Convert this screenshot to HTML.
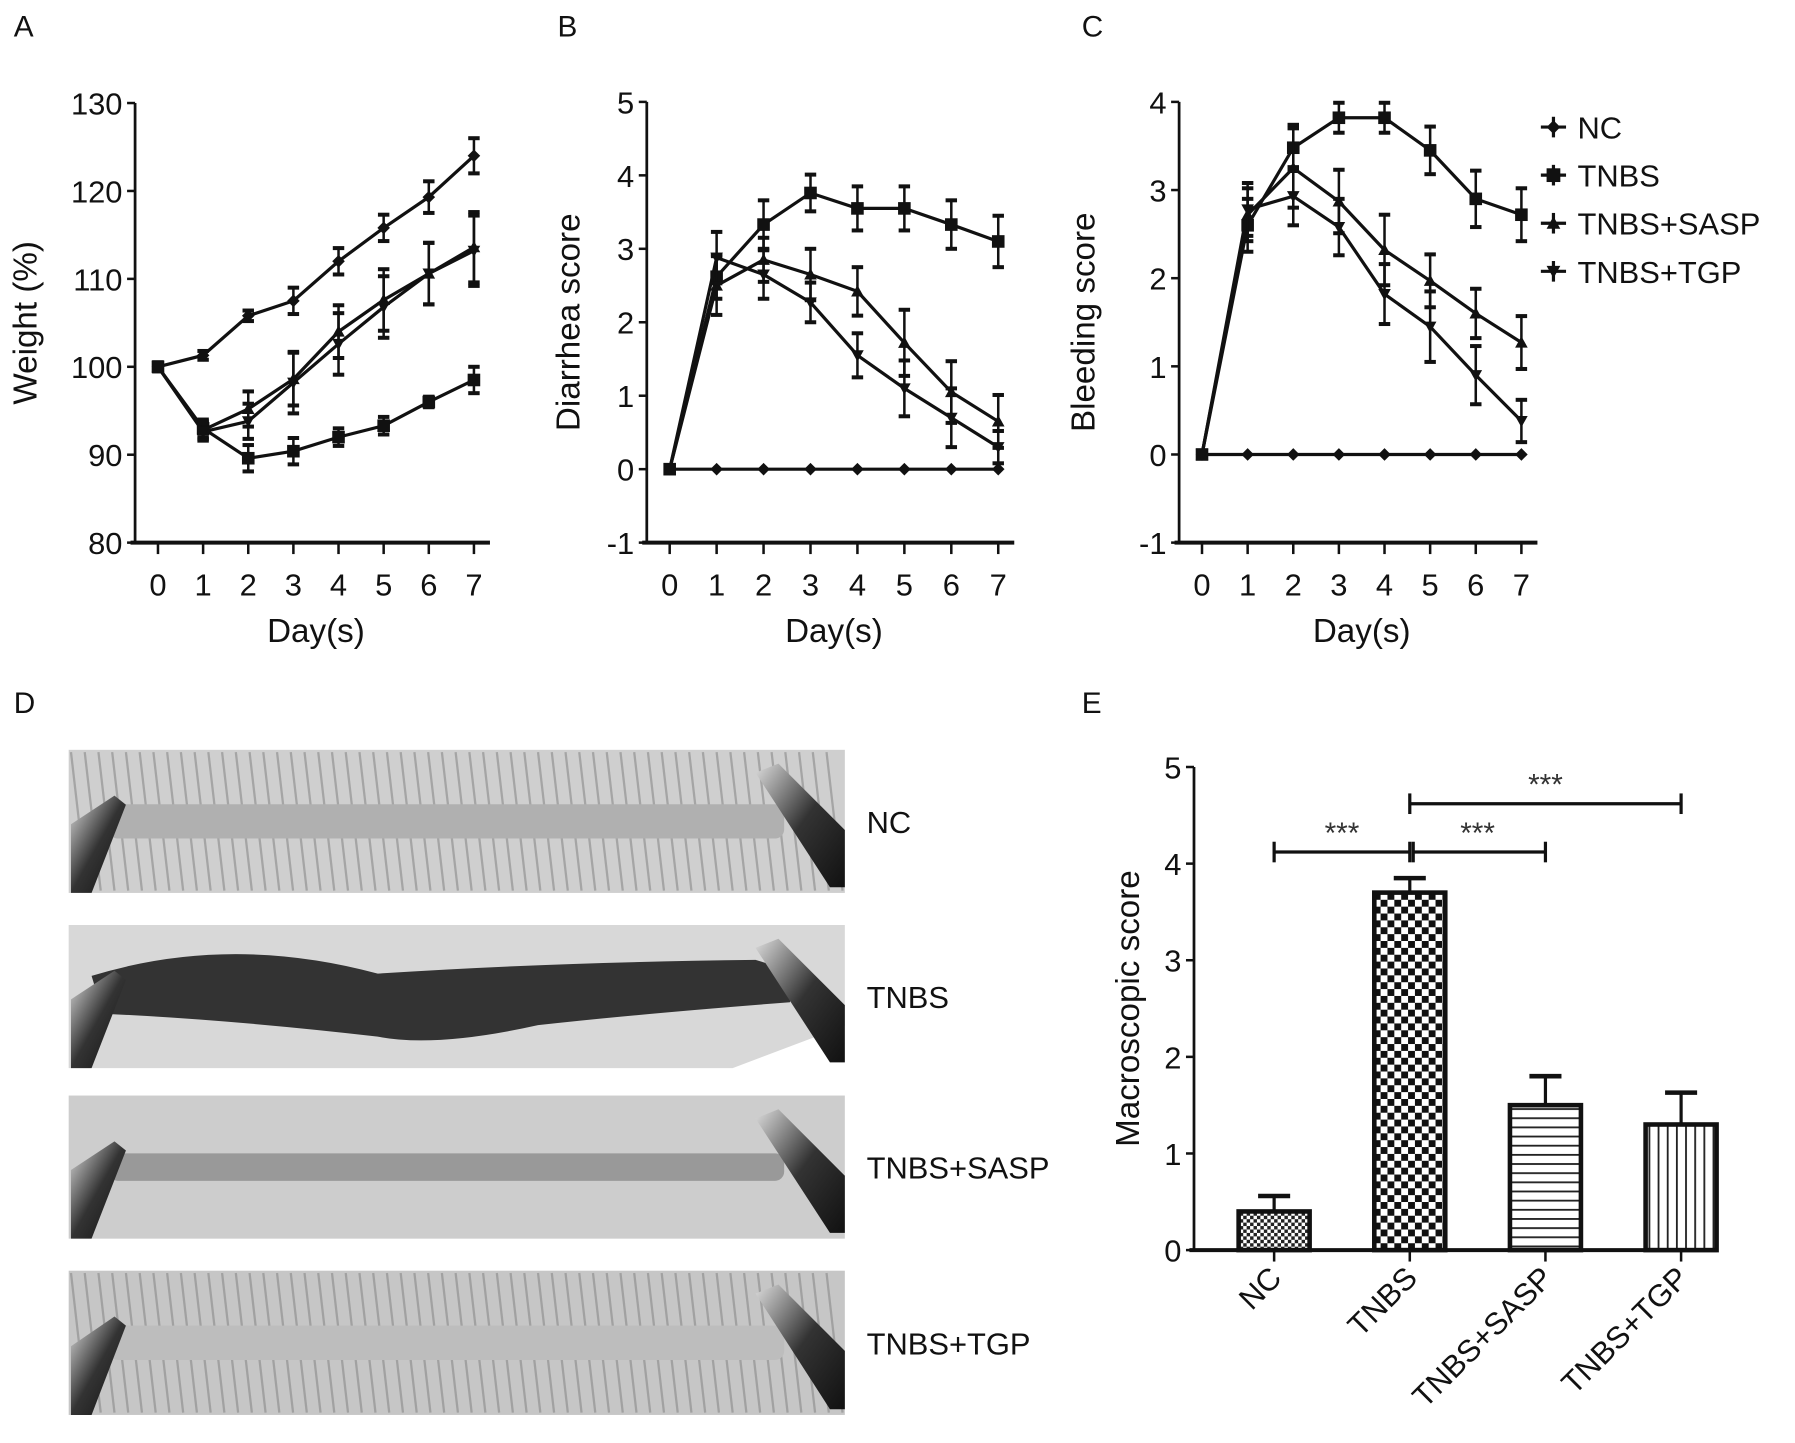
<!DOCTYPE html>
<html><head><meta charset="utf-8">
<style>
html,body{margin:0;padding:0;background:#fff;}
svg{display:block;font-family:"Liberation Sans",Arial,sans-serif;}
</style></head>
<body>
<svg id="fig" width="1795" height="1443" viewBox="0 0 1568 1260.5" xmlns="http://www.w3.org/2000/svg">
<defs>
<pattern id="pCheckSmall" width="6" height="6" patternUnits="userSpaceOnUse"><rect width="6" height="6" fill="#fff"/><rect width="3" height="3" fill="#222"/><rect x="3" y="3" width="3" height="3" fill="#222"/></pattern>
<pattern id="pCheck" width="12" height="12" patternUnits="userSpaceOnUse"><rect width="12" height="12" fill="#fff"/><rect width="6" height="6" fill="#111"/><rect x="6" y="6" width="6" height="6" fill="#111"/></pattern>
<pattern id="pHoriz" width="8" height="8" patternUnits="userSpaceOnUse"><rect width="8" height="8" fill="#fff"/><rect y="0" width="8" height="1.6" fill="#222"/></pattern>
<pattern id="pVert" width="8" height="8" patternUnits="userSpaceOnUse"><rect width="8" height="8" fill="#fff"/><rect x="0" width="1.6" height="8" fill="#222"/></pattern>
<linearGradient id="metal" x1="0" y1="0" x2="1" y2="1"><stop offset="0" stop-color="#ddd"/><stop offset="0.5" stop-color="#333"/><stop offset="1" stop-color="#111"/></linearGradient>
</defs>
<g id="panels"></g>
</svg>
<script>
// ---------- Data ----------
const days = [0,1,2,3,4,5,6,7];
const seriesNames = ["NC","TNBS","TNBS+SASP","TNBS+TGP"];
// Panel A weight
const weightNC   = [100,101.3,105.8,107.5,112,115.8,119.3,124];
const weightTNBS = [100,93,89.6,90.4,92,93.3,96,98.5];
const weightSASP = [100,92.8,95.2,98.6,104,107.6,110.6,113.6];
const weightTGP  = [100,92.6,93.8,98.2,102.6,106.8,110.6,113.2];
const weightErrNC   = [0.5,0.5,0.6,1.5,1.5,1.5,1.8,2];
const weightErrTNBS = [0.5,1,1.5,1.5,1,1,0.6,1.5];
const weightErrSASP = [0.5,1,2,3,3,3.5,3.5,4];
const weightErrTGP  = [0.5,1,2,3.5,3.5,3.5,3.5,4];
// Panel B diarrhea
const diarNC   = [0,0,0,0,0,0,0,0];
const diarTNBS = [0,2.62,3.33,3.76,3.55,3.55,3.33,3.1];
const diarSASP = [0,2.5,2.85,2.65,2.42,1.72,1.05,0.65];
const diarTGP  = [0,2.88,2.65,2.27,1.55,1.1,0.7,0.3];
const diarErrNC   = [0,0,0,0,0,0,0,0];
const diarErrTNBS = [0,0.3,0.33,0.25,0.3,0.3,0.33,0.35];
const diarErrSASP = [0,0.4,0.3,0.35,0.33,0.45,0.42,0.36];
const diarErrTGP  = [0,0.35,0.33,0.27,0.3,0.38,0.4,0.22];
// Panel C bleeding
const bleedNC   = [0,0,0,0,0,0,0,0];
const bleedTNBS = [0,2.6,3.48,3.82,3.82,3.45,2.9,2.72];
const bleedSASP = [0,2.72,3.25,2.87,2.32,1.97,1.6,1.27];
const bleedTGP  = [0,2.78,2.93,2.58,1.82,1.45,0.9,0.38];
const bleedErrNC   = [0,0,0,0,0,0,0,0];
const bleedErrTNBS = [0,0.3,0.26,0.17,0.17,0.27,0.32,0.3];
const bleedErrSASP = [0,0.3,0.45,0.36,0.4,0.3,0.28,0.3];
const bleedErrTGP  = [0,0.3,0.33,0.32,0.34,0.4,0.33,0.24];
// Panel E bars
const barCats = ["NC","TNBS","TNBS+SASP","TNBS+TGP"];
const barVals = [0.4,3.7,1.5,1.3];
const barErrs = [0.16,0.15,0.3,0.33];
const yTicksA = [80,90,100,110,120,130];
const yTicksB = [-1,0,1,2,3,4,5];
const yTicksC = [-1,0,1,2,3,4];
const yTicksE = [0,1,2,3,4,5];

const NS="http://www.w3.org/2000/svg";
const root=document.getElementById('panels');
function mk(tag,attrs,parent){const e=document.createElementNS(NS,tag);for(const k in attrs)e.setAttribute(k,attrs[k]);(parent||root).appendChild(e);return e;}
function txt(s,attrs,parent){const e=mk('text',attrs,parent);e.textContent=s;return e;}

function marker(g,type,x,y,s){
  s=s||6;
  if(type===0){const m=mk('path',{d:`M${x} ${y-s} L${x+s} ${y} L${x} ${y+s} L${x-s} ${y} Z`,fill:'#111'},g);}
  else if(type===1){const m=mk('rect',{x:x-s,y:y-s,width:2*s,height:2*s,fill:'#111'},g);}
  else if(type===2){const m=mk('path',{d:`M${x} ${y-s} L${x+s} ${y+s*0.8} L${x-s} ${y+s*0.8} Z`,fill:'#111'},g);}
  else {const m=mk('path',{d:`M${x} ${y+s} L${x+s} ${y-s*0.8} L${x-s} ${y-s*0.8} Z`,fill:'#111'},g);}
}

function lineChart(cfg){
  const g=mk('g',{});
  
  
  const xs=d=>cfg.x0+(d-days[0])*(cfg.x7-cfg.x0)/(days[days.length-1]-days[0]);
  const ys=v=>cfg.yBot+(v-cfg.yMin)*(cfg.yTop-cfg.yBot)/(cfg.yMax-cfg.yMin);
  const ya=mk('line',{x1:cfg.ax,y1:ys(cfg.yMax),x2:cfg.ax,y2:ys(cfg.yMin),stroke:'#111','stroke-width':2.4},g);
  
  const xa=mk('line',{x1:cfg.ax-4,y1:ys(cfg.yMin),x2:cfg.xEnd,y2:ys(cfg.yMin),stroke:'#111','stroke-width':3.5},g);
  
  cfg.yTicks.forEach(t=>{
    mk('line',{x1:cfg.ax-7,y1:ys(t),x2:cfg.ax,y2:ys(t),stroke:'#111','stroke-width':2.2},g);
    const l=txt(String(t),{x:cfg.ax-11,y:ys(t)+10,'text-anchor':'end','font-size':27,fill:'#111'},g);
    
  });
  days.forEach(d=>{
    mk('line',{x1:xs(d),y1:ys(cfg.yMin),x2:xs(d),y2:ys(cfg.yMin)+10,stroke:'#111','stroke-width':2.2},g);
    const l=txt(String(d),{x:xs(d),y:ys(cfg.yMin)+46,'text-anchor':'middle','font-size':27,fill:'#111'},g);
    
  });
  const xt=txt('Day(s)',{x:(cfg.x0+cfg.x7)/2,y:ys(cfg.yMin)+87,'text-anchor':'middle','font-size':29,fill:'#111'},g);
  
  const cy=(ys(cfg.yMax)+ys(cfg.yMin))/2;
  const yt=txt(cfg.ylabel,{x:cfg.ylx,y:cy,'text-anchor':'middle','font-size':29,fill:'#111',transform:`rotate(-90 ${cfg.ylx} ${cy})`},g);
  
  cfg.series.forEach((s,si)=>{
    const sg=mk('g',{},g);
    
    
    const pts=s.map((v,i)=>xs(days[i])+','+ys(v)).join(' ');
    mk('polyline',{points:pts,fill:'none',stroke:'#111','stroke-width':2.8},sg);
    s.forEach((v,i)=>{
      const e=cfg.errs[si][i];
      if(e>0){
        const x=xs(days[i]);
        mk('line',{x1:x,y1:ys(v-e),x2:x,y2:ys(v+e),stroke:'#111','stroke-width':2.2},sg);
        mk('line',{x1:x-5,y1:ys(v+e),x2:x+5,y2:ys(v+e),stroke:'#111','stroke-width':3.5},sg);
        mk('line',{x1:x-5,y1:ys(v-e),x2:x+5,y2:ys(v-e),stroke:'#111','stroke-width':3.5},sg);
      }
      marker(sg,si,xs(days[i]),ys(v),5.5);
    });
  });
}

lineChart({name:'weight-chart',ax:118,x0:138,x7:414,xEnd:428,yTop:90,yBot:474,yMin:80,yMax:130,yTicks:yTicksA,ylabel:'Weight (%)',ylx:32,
  series:[weightNC,weightTNBS,weightSASP,weightTGP],errs:[weightErrNC,weightErrTNBS,weightErrSASP,weightErrTGP]});
lineChart({name:'diarrhea-chart',ax:565,x0:585,x7:872,xEnd:886,yTop:89,yBot:474,yMin:-1,yMax:5,yTicks:yTicksB,ylabel:'Diarrhea score',ylx:506,
  series:[diarNC,diarTNBS,diarSASP,diarTGP],errs:[diarErrNC,diarErrTNBS,diarErrSASP,diarErrTGP]});
lineChart({name:'bleeding-chart',ax:1030,x0:1050,x7:1329,xEnd:1343,yTop:89,yBot:474,yMin:-1,yMax:4,yTicks:yTicksC,ylabel:'Bleeding score',ylx:956,
  series:[bleedNC,bleedTNBS,bleedSASP,bleedTGP],errs:[bleedErrNC,bleedErrTNBS,bleedErrSASP,bleedErrTGP]});

// legend
const lg=mk('g',{});

seriesNames.forEach((n,i)=>{
  const y=111+i*42;
  const eg=mk('g',{},lg);
  
  mk('line',{x1:1346,y1:y,x2:1368,y2:y,stroke:'#111','stroke-width':2.8},eg);
  mk('line',{x1:1357,y1:y-9,x2:1357,y2:y+9,stroke:'#111','stroke-width':2.8},eg);
  marker(eg,i,1357,y,6);
  txt(n,{x:1378,y:y+10,'font-size':27,fill:'#111'},eg);
});

// panel letters
[['A',12,32],['B',487,32],['C',945,32],['D',12,623],['E',945,623]].forEach(p=>{
  const t=txt(p[0],{x:p[1],y:p[2],'font-size':26,fill:'#111'});
  
});

// Panel D photos
const photos=[
 {y:655,h:125,bg:'#cfcfcf',band:'#b0b0b0',label:'NC',tex:true,bw:30},
 {y:808,h:125,bg:'#d8d8d8',band:'#333',label:'TNBS',tex:false,bw:60},
 {y:957,h:125,bg:'#cdcdcd',band:'#999',label:'TNBS+SASP',tex:false,bw:24},
 {y:1110,h:126,bg:'#c6c6c6',band:'#bdbdbd',label:'TNBS+TGP',tex:true,bw:30}
];
photos.forEach((p,i)=>{
  const g=mk('g',{});
  
  
  if(i===1){mk('path',{d:`M60 ${p.y} L738 ${p.y} L738 ${p.y+88} L640 ${p.y+p.h} L60 ${p.y+p.h} Z`,fill:p.bg},g);}
  else mk('rect',{x:60,y:p.y,width:678,height:p.h,fill:p.bg},g);
  if(p.tex){for(let k=0;k<56;k++){const x=62+k*12;mk('line',{x1:x,y1:p.y+2,x2:x+14,y2:p.y+p.h-2,stroke:'#8a8a8a','stroke-width':2,opacity:0.6},g);}}
  const cy=p.y+p.h/2;
  if(i===1){
    mk('path',{d:`M80 ${cy-18} Q200 ${cy-55} 330 ${cy-20} Q480 ${cy-30} 660 ${cy-32} L700 ${cy-20} L690 ${cy+5} Q560 ${cy+15} 470 ${cy+25} Q380 ${cy+45} 330 ${cy+35} Q200 ${cy+20} 90 ${cy+15} Z`,fill:p.band},g);
  } else {
    mk('rect',{x:95,y:cy-p.bw/2,width:590,height:p.bw,fill:p.band,rx:8},g);
  }
  mk('path',{d:`M62 ${p.y+p.h} L62 ${p.y+p.h-60} L100 ${p.y+40} L110 ${p.y+48} L80 ${p.y+p.h} Z`,fill:'url(#metal)'},g);
  mk('path',{d:`M660 ${p.y+20} L680 ${p.y+12} L738 ${p.y+70} L738 ${p.y+p.h-5} L725 ${p.y+p.h-5} Z`,fill:'url(#metal)'},g);
  const t=txt(p.label,{x:757,y:cy+10,'font-size':27,fill:'#111'});
  
});

// Panel E bar chart
(function(){
  const g=mk('g',{});
  
  const ax=1043,yTop=670,yBot=1092,yMax=5;
  const ys=v=>yBot-v*(yBot-yTop)/yMax;
  const centers0=1113,step=118.5,bw=62;
  const xs=i=>centers0+i*step;
  const fills=['url(#pCheckSmall)','url(#pCheck)','url(#pHoriz)','url(#pVert)'];
  barVals.forEach((v,i)=>{
    const e=barErrs[i];
    mk('line',{x1:xs(i),y1:ys(v),x2:xs(i),y2:ys(v+e),stroke:'#111','stroke-width':2.8},g);
    mk('line',{x1:xs(i)-14,y1:ys(v+e),x2:xs(i)+14,y2:ys(v+e),stroke:'#111','stroke-width':4},g);
    const b=mk('rect',{x:xs(i)-bw/2,y:ys(v),width:bw,height:ys(0)-ys(v),fill:fills[i],stroke:'#111','stroke-width':4},g);
    
    
    mk('line',{x1:xs(i),y1:yBot,x2:xs(i),y2:yBot+10,stroke:'#111','stroke-width':2.2},g);
    const tx=xs(i)+8,ty=yBot+26;
    const l=txt(barCats[i],{x:tx,y:ty,'text-anchor':'end','font-size':27,fill:'#111',transform:`rotate(-45 ${tx} ${ty})`},g);
    
  });
  mk('line',{x1:ax,y1:yTop,x2:ax,y2:yBot,stroke:'#111','stroke-width':2.4},g);
  mk('line',{x1:ax-4,y1:yBot,x2:1500,y2:yBot,stroke:'#111','stroke-width':3.5},g);
  yTicksE.forEach(t=>{
    mk('line',{x1:ax-7,y1:ys(t),x2:ax,y2:ys(t),stroke:'#111','stroke-width':2.2},g);
    const l=txt(String(t),{x:ax-11,y:ys(t)+10,'text-anchor':'end','font-size':27,fill:'#111'},g);
    
  });
  const cy=(yTop+yBot)/2;
  const yt=txt('Macroscopic score',{x:995,y:cy,'text-anchor':'middle','font-size':29,fill:'#111',transform:`rotate(-90 995 ${cy})`},g);
  
  function sig(i1,i2,v,off){
    const y=ys(v);
    const sg=mk('g',{},g);
    
    mk('line',{x1:xs(i1)+off,y1:y,x2:xs(i2),y2:y,stroke:'#111','stroke-width':2.8},sg);
    mk('line',{x1:xs(i1)+off,y1:y-9,x2:xs(i1)+off,y2:y+9,stroke:'#111','stroke-width':2.8},sg);
    mk('line',{x1:xs(i2),y1:y-9,x2:xs(i2),y2:y+9,stroke:'#111','stroke-width':2.8},sg);
    txt('***',{x:(xs(i1)+xs(i2))/2,y:y-8,'text-anchor':'middle','font-size':26,fill:'#333'},sg);
  }
  sig(0,1,4.12,0);
  sig(1,2,4.12,3);
  sig(1,3,4.62,0);
})();
</script>
</body></html>
